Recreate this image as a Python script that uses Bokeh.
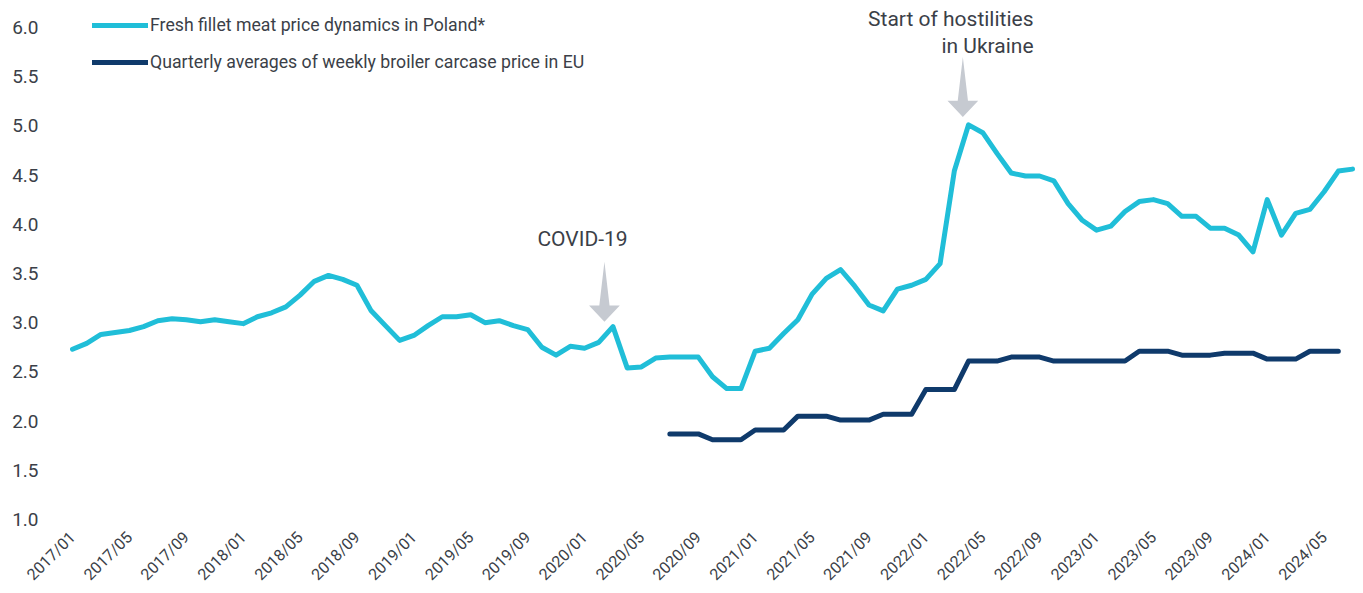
import math
from bokeh.plotting import figure
from bokeh.models import Legend, LegendItem, FixedTicker, Label, Range1d
from bokeh.embed import file_html
from bokeh.resources import INLINE

# ---------------- data ----------------
# monthly index: 0 = 2017/01 ... 90 = 2024/07
poland_fillet = [
    2.73, 2.79, 2.88, 2.90, 2.92, 2.96, 3.02, 3.04, 3.03, 3.01, 3.03, 3.01,   # 2017
    2.99, 3.06, 3.10, 3.16, 3.28, 3.42, 3.48, 3.44, 3.38, 3.12, 2.97, 2.82,   # 2018
    2.87, 2.97, 3.06, 3.06, 3.08, 3.00, 3.02, 2.97, 2.93, 2.75, 2.67, 2.76,   # 2019
    2.74, 2.80, 2.96, 2.54, 2.55, 2.64, 2.65, 2.65, 2.65, 2.45, 2.33, 2.33,   # 2020
    2.71, 2.74, 2.89, 3.03, 3.29, 3.45, 3.54, 3.37, 3.18, 3.12, 3.34, 3.38,   # 2021
    3.44, 3.60, 4.54, 5.01, 4.93, 4.72, 4.52, 4.49, 4.49, 4.44, 4.21, 4.04,   # 2022
    3.94, 3.98, 4.13, 4.23, 4.25, 4.21, 4.08, 4.08, 3.96, 3.96, 3.89, 3.72,   # 2023
    4.25, 3.89, 4.11, 4.15, 4.33, 4.54, 4.56,                                 # 2024
]
eu_start_month = 42  # 2020/07
eu_quarterly = [1.87, 1.81, 1.91, 2.05, 2.01, 2.07, 2.32, 2.61,
                2.65, 2.61, 2.61, 2.71, 2.67, 2.69, 2.63, 2.71]  # Q3 2020 .. Q2 2024

tick_months = list(range(0, 89, 4))
tick_labels = ["2017/01", "2017/05", "2017/09", "2018/01", "2018/05", "2018/09",
               "2019/01", "2019/05", "2019/09", "2020/01", "2020/05", "2020/09",
               "2021/01", "2021/05", "2021/09", "2022/01", "2022/05", "2022/09",
               "2023/01", "2023/05", "2023/09", "2024/01", "2024/05"]
y_ticks = [1.0, 1.5, 2.0, 2.5, 3.0, 3.5, 4.0, 4.5, 5.0, 5.5, 6.0]

series_names = ["Fresh fillet meat price dynamics in Poland*",
                "Quarterly averages of weekly broiler carcase price in EU"]

# annotations: (month position, arrow tip value, arrow top value, text)
annot_covid = dict(x=37.4, tip=3.01, top=3.62, text="COVID-19")
annot_war = dict(x=62.6, tip=5.09, top=5.70, text=["Start of hostilities", "in Ukraine"])

LIGHT = "#20bed8"
DARK = "#0f3a6b"
ARROW = "#c6cad1"
TEXT = "#3b3f48"
FONT = "Roboto"

# ---------------- figure ----------------
p = figure(width=1363, height=593, output_backend="svg", toolbar_location=None,
           x_range=Range1d(-0.844, 90.77), y_range=Range1d(0.9595, 6.273),
           min_border_left=60, min_border_right=0, min_border_top=0, min_border_bottom=68)
p.outline_line_color = None
p.xgrid.grid_line_color = None
p.ygrid.grid_line_color = None
p.background_fill_color = "white"

x_light = list(range(len(poland_fillet)))
r1 = p.line(x_light, poland_fillet, line_color=LIGHT, line_width=5,
            line_join="round", line_cap="round")

eu_monthly = [v for v in eu_quarterly for _ in range(3)]
x_dark = list(range(eu_start_month, eu_start_month + len(eu_monthly)))
r2 = p.line(x_dark, eu_monthly, line_color=DARK, line_width=5,
            line_join="round", line_cap="round")

# axes
p.xaxis.ticker = FixedTicker(ticks=tick_months)
p.xaxis.major_label_overrides = {m: l for m, l in zip(tick_months, tick_labels)}
p.xaxis.major_label_orientation = math.pi / 4
p.xaxis.axis_line_color = None
p.xaxis.major_tick_line_color = None
p.xaxis.minor_tick_line_color = None
p.xaxis.major_label_text_font = FONT
p.xaxis.major_label_text_font_size = "16px"
p.xaxis.major_label_text_color = TEXT
p.xaxis.major_label_standoff = 5

p.yaxis.ticker = FixedTicker(ticks=y_ticks)
p.yaxis.major_label_overrides = {v: f"{v:.1f}" for v in y_ticks}
p.yaxis.axis_line_color = None
p.yaxis.major_tick_line_color = None
p.yaxis.minor_tick_line_color = None
p.yaxis.major_label_text_font = FONT
p.yaxis.major_label_text_font_size = "19px"
p.yaxis.major_label_text_color = TEXT
p.yaxis.major_label_standoff = 16

# arrows
def arrow(a):
    x, tip, top = a["x"], a["tip"], a["top"]
    base = tip + 0.165
    xs = [x, x + 0.36, x + 1.08, x, x - 1.08, x - 0.36]
    ys = [top, base, base, tip, base, base]
    return xs, ys

ax1, ay1 = arrow(annot_covid)
ax2, ay2 = arrow(annot_war)
p.patches([ax1, ax2], [ay1, ay2], fill_color=ARROW, line_color=None)

p.add_layout(Label(x=35.86, y=3.845, text=annot_covid["text"], text_align="center",
                   text_baseline="middle", text_font=FONT, text_font_size="21px",
                   text_color=TEXT))
p.add_layout(Label(x=67.57, y=6.09, text=annot_war["text"][0], text_align="right",
                   text_baseline="middle", text_font=FONT, text_font_size="21px",
                   text_color=TEXT))
p.add_layout(Label(x=67.57, y=5.81, text=annot_war["text"][1], text_align="right",
                   text_baseline="middle", text_font=FONT, text_font_size="21px",
                   text_color=TEXT))

legend = Legend(items=[LegendItem(label=series_names[0], renderers=[r1]),
                       LegendItem(label=series_names[1], renderers=[r2])],
                location=(32, 451), orientation="vertical")
legend.glyph_width = 56
legend.glyph_height = 20
legend.label_height = 20
legend.spacing = 17
legend.padding = 0
legend.margin = 0
legend.label_standoff = 2
legend.label_text_font = FONT
legend.label_text_font_size = "17.7px"
legend.label_text_color = TEXT
legend.background_fill_alpha = 0
legend.border_line_alpha = 0
p.add_layout(legend)

html = file_html(p, INLINE)
open("out.html", "w").write(html)
